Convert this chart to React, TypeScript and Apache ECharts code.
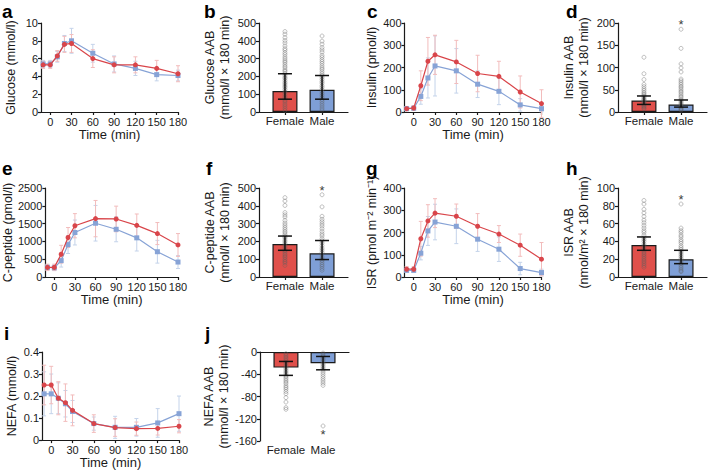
import React, { useEffect, useRef } from "react";
import * as echarts from "echarts";

const TIME = [-10, 0, 10, 20, 30, 60, 90, 120, 150, 180];
const TIME_TICKS = [0, 30, 60, 90, 120, 150, 180];
const SEX = ["Female", "Male"];

// a: glucose
const glucoseF = [5.3, 5.3, 6.3, 7.6, 7.7, 6.0, 5.3, 5.3, 4.9, 4.3];
const glucoseFsd = [0.4, 0.4, 0.6, 0.9, 1.0, 1.0, 0.9, 0.9, 0.9, 0.9];
const glucoseM = [5.4, 5.4, 6.2, 7.7, 8.0, 6.6, 5.4, 4.9, 4.2, 4.1];
const glucoseMsd = [0.4, 0.4, 0.6, 0.9, 1.4, 1.0, 0.9, 0.8, 0.7, 0.6];
// c: insulin
const insulinF = [15, 18, 118, 228, 257, 225, 173, 160, 90, 38];
const insulinFsd = [10, 10, 67, 107, 88, 97, 82, 68, 72, 62];
const insulinM = [15, 17, 70, 153, 207, 185, 125, 93, 32, 15];
const insulinMsd = [8, 8, 35, 90, 135, 100, 60, 60, 28, 14];
// e: C-peptide
const cpepF = [270, 270, 640, 1110, 1440, 1640, 1630, 1450, 1220, 900];
const cpepFsd = [90, 90, 250, 280, 340, 510, 360, 320, 310, 320];
const cpepM = [270, 260, 460, 910, 1250, 1510, 1340, 1100, 710, 420];
const cpepMsd = [80, 80, 180, 250, 350, 500, 350, 370, 320, 180];
// g: ISR
const isrF = [35, 35, 172, 252, 287, 273, 228, 193, 143, 80];
const isrFsd = [12, 12, 78, 73, 65, 55, 57, 38, 50, 75];
const isrM = [30, 30, 107, 207, 247, 228, 170, 125, 38, 20];
const isrMsd = [10, 10, 30, 65, 80, 78, 55, 55, 28, 15];
// i: NEFA
const nefaF = [0.25, 0.25, 0.19, 0.17, 0.135, 0.075, 0.057, 0.052, 0.053, 0.063];
const nefaFsd = [0.09, 0.085, 0.075, 0.085, 0.07, 0.04, 0.04, 0.03, 0.03, 0.03];
const nefaM = [0.21, 0.21, 0.19, 0.165, 0.13, 0.075, 0.058, 0.058, 0.078, 0.12];
const nefaMsd = [0.1, 0.09, 0.07, 0.06, 0.05, 0.03, 0.05, 0.04, 0.065, 0.08];

// b: glucose AAB
const glucAabMean = [118, 125];
const glucAabLo = [72, 72];
const glucAabHi = [215, 205];
const glucAabDotsF = [452, 437, 418, 402, 388, 371, 356, 347, 333, 322, 309, 298, 287, 279, 268, 257, 248, 236, 229, 218, 207, 196, 188, 177, 166, 157, 146, 138, 127, 116, 108, 97, 86, 78, 66, 57, 44, 33, 21, 9];
const glucAabDotsM = [427, 398, 381, 362, 349, 336, 318, 307, 294, 283, 272, 259, 247, 238, 226, 214, 203, 194, 183, 171, 162, 148, 139, 126, 114, 103, 92, 81, 69, 58, 46, 34, 22, 11];
// d: insulin AAB
const insAabMean = [26, 17];
const insAabLo = [17, 11];
const insAabHi = [36, 27];
const insAabDotsF = [123, 86, 73, 62, 57, 52, 48, 44, 41, 38, 35, 32, 29, 27, 24, 22, 19, 17, 14, 12, 9, 7];
const insAabDotsM = [186, 143, 108, 99, 90, 74, 70, 66, 62, 58, 55, 51, 47, 44, 40, 36, 33, 29, 26, 23, 20, 17, 14, 11, 8, 6, 4];
// f: C-peptide AAB
const cpepAabMean = [185, 133];
const cpepAabLo = [150, 98];
const cpepAabHi = [230, 205];
const cpepAabDotsF = [446, 427, 402, 362, 349, 337, 318, 303, 291, 279, 268, 257, 248, 237, 226, 219, 207, 198, 188, 179, 168, 157, 148, 139, 128, 118, 109, 98, 88, 79, 65];
const cpepAabDotsM = [462, 394, 341, 324, 311, 298, 286, 271, 256, 242, 231, 216, 203, 191, 176, 162, 151, 139, 126, 112, 101, 92, 81, 70, 61, 49, 38];
// h: ISR AAB
const isrAabMean = [36, 20];
const isrAabLo = [30, 15];
const isrAabHi = [45, 30];
const isrAabDotsF = [86, 82, 76, 72, 68, 64, 61, 58, 55, 52, 50, 47, 44, 42, 40, 37, 35, 33, 31, 29, 27, 25, 23, 21, 19, 17, 15, 13, 11];
const isrAabDotsM = [82, 55, 52, 50, 47, 45, 42, 40, 38, 35, 33, 31, 29, 27, 25, 23, 21, 19, 17, 15, 13, 11, 9, 7, 6];
// j: NEFA AAB
const nefaAabMean = [-28, -20];
const nefaAabLo = [-42, -32];
const nefaAabHi = [-17, -8];
const nefaAabDotsF = [-3, -6, -9, -12, -15, -18, -21, -24, -27, -30, -33, -36, -39, -42, -45, -48, -51, -54, -57, -61, -64, -67, -71, -75, -82, -90, -100, -103];
const nefaAabDotsM = [-2, -5, -8, -11, -14, -17, -20, -23, -26, -29, -32, -36, -40, -44, -48, -52, -56, -60, -133];

const FONT = "Liberation Sans, Arial, sans-serif";
const RED = "#d9454a";
const BLUE = "#87a3d6";
const RED_ERR = "#f2bcbc";
const BLUE_ERR = "#c4d3ea";
const RED_BAR = "#e0504b";
const BLUE_BAR = "#7f9fd6";
const INK = "#1a1a1a";

const axisLine = { show: true, onZero: false, lineStyle: { color: INK, width: 1.2 } };
const axisTick = { show: true, length: 3, lineStyle: { color: INK, width: 1.2 } };
const numFmt = (v: number) => String(+Number(v).toFixed(3));

function errRender(color: string, capW: number, width: number) {
  return (params: any, api: any) => {
    const x = api.value(0);
    const lo = api.value(2);
    const hi = api.value(3);
    const pLo = api.coord([x, lo]);
    const pHi = api.coord([x, hi]);
    const style = { stroke: color, lineWidth: width };
    return {
      type: "group",
      children: [
        { type: "line", shape: { x1: pLo[0], y1: pLo[1], x2: pHi[0], y2: pHi[1] }, style },
        { type: "line", shape: { x1: pHi[0] - capW / 2, y1: pHi[1], x2: pHi[0] + capW / 2, y2: pHi[1] }, style },
        { type: "line", shape: { x1: pLo[0] - capW / 2, y1: pLo[1], x2: pLo[0] + capW / 2, y2: pLo[1] }, style },
      ],
    };
  };
}

const grids: any[] = [];
const xAxes: any[] = [];
const yAxes: any[] = [];
const series: any[] = [];

function linePanel(rect: number[], yMax: number, yInt: number, yName: string, f: number[], fsd: number[], m: number[], msd: number[], nameGap: number) {
  const gi = grids.length;
  grids.push({ left: rect[0], top: rect[1], width: rect[2], height: rect[3] });
  const xi = xAxes.length;
  xAxes.push({
    gridIndex: gi, type: "value", min: -13, max: 180,
    axisLine, axisTick: { ...axisTick, customValues: TIME_TICKS },
    axisLabel: { customValues: TIME_TICKS, fontSize: 11, color: INK, fontFamily: FONT, margin: 4 },
    splitLine: { show: false },
    name: "Time (min)", nameLocation: "middle", nameGap: 15,
    nameTextStyle: { fontSize: 13, color: INK, fontFamily: FONT },
  });
  const yi = yAxes.length;
  yAxes.push({
    gridIndex: gi, type: "value", min: 0, max: yMax, interval: yInt,
    axisLine, axisTick,
    axisLabel: { fontSize: 11, color: INK, fontFamily: FONT, margin: 3, formatter: numFmt },
    splitLine: { show: false },
    name: yName, nameLocation: "middle", nameGap,
    nameTextStyle: { fontSize: 12.5, color: INK, fontFamily: FONT },
  });
  const errData = (mean: number[], sd: number[]) => TIME.map((t, i) => [t, mean[i], mean[i] - sd[i], mean[i] + sd[i]]);
  series.push({ type: "custom", xAxisIndex: xi, yAxisIndex: yi, renderItem: errRender(BLUE_ERR, 4, 1), data: errData(m, msd), encode: { x: 0, y: 1 }, z: 1 });
  series.push({ type: "custom", xAxisIndex: xi, yAxisIndex: yi, renderItem: errRender(RED_ERR, 4, 1), data: errData(f, fsd), encode: { x: 0, y: 1 }, z: 1 });
  series.push({ type: "line", xAxisIndex: xi, yAxisIndex: yi, data: TIME.map((t, i) => [t, m[i]]), symbol: "rect", symbolSize: 5, showSymbol: true, color: BLUE, lineStyle: { width: 1.2, color: BLUE }, itemStyle: { color: BLUE }, z: 3 });
  series.push({ type: "line", xAxisIndex: xi, yAxisIndex: yi, data: TIME.map((t, i) => [t, f[i]]), symbol: "circle", symbolSize: 5, showSymbol: true, color: RED, lineStyle: { width: 1.2, color: RED }, itemStyle: { color: RED }, z: 4 });
}

function barPanel(rect: number[], yMin: number, yMax: number, yInt: number, yName: string, mean: number[], lo: number[], hi: number[], dotsF: number[], dotsM: number[], star: number | null, negative: boolean) {
  const gi = grids.length;
  grids.push({ left: rect[0], top: rect[1], width: rect[2], height: rect[3] });
  const xi = xAxes.length;
  xAxes.push({
    gridIndex: gi, type: "value", min: -0.7, max: 1.7, position: "bottom",
    axisLine: negative ? { show: false, onZero: false } : axisLine,
    axisTick: negative ? { show: false } : { ...axisTick, customValues: [0, 1] },
    axisLabel: { customValues: [0, 1], formatter: (v: number) => SEX[Math.round(v)], fontSize: 11.5, color: INK, fontFamily: FONT, margin: 3 },
    splitLine: { show: false },
  });
  if (negative) {
    xAxes.push({
      gridIndex: gi, type: "value", min: -0.7, max: 1.7, position: "top",
      axisLine, axisTick: { show: false }, axisLabel: { show: false }, splitLine: { show: false },
    });
  }
  const yi = yAxes.length;
  yAxes.push({
    gridIndex: gi, type: "value", min: yMin, max: yMax, interval: yInt,
    axisLine, axisTick,
    axisLabel: { fontSize: 11, color: INK, fontFamily: FONT, margin: 3, formatter: numFmt },
    splitLine: { show: false },
    name: yName, nameLocation: "middle", nameGap: 27,
    nameTextStyle: { fontSize: 12.5, color: INK, fontFamily: FONT, lineHeight: 15 },
  });
  series.push({
    type: "bar", xAxisIndex: xi, yAxisIndex: yi, barWidth: 25, z: 2,
    itemStyle: { borderColor: INK, borderWidth: 1.2 },
    data: [
      { value: [0, mean[0]], itemStyle: { color: RED_BAR, borderColor: INK, borderWidth: 1.2 } },
      { value: [1, mean[1]], itemStyle: { color: BLUE_BAR, borderColor: INK, borderWidth: 1.2 } },
    ],
  });
  series.push({
    type: "scatter", xAxisIndex: xi, yAxisIndex: yi, symbol: "circle", symbolSize: 4, z: 3,
    itemStyle: { color: "rgba(255,255,255,0)", borderColor: "rgba(95,95,95,0.6)", borderWidth: 0.8 },
    data: dotsF.map((v) => [0, v]).concat(dotsM.map((v) => [1, v])),
  });
  series.push({
    type: "custom", xAxisIndex: xi, yAxisIndex: yi, renderItem: errRender("#111", 14, 1.5), z: 4,
    data: [[0, mean[0], lo[0], hi[0]], [1, mean[1], lo[1], hi[1]]], encode: { x: 0, y: 1 },
  });
  if (star !== null) {
    series.push({
      type: "scatter", xAxisIndex: xi, yAxisIndex: yi, symbol: "circle", symbolSize: 1, z: 5,
      itemStyle: { color: "transparent" },
      label: { show: true, formatter: "*", position: "inside", fontSize: 13, color: "#000", fontFamily: FONT, offset: [0, 1] },
      data: [[1, star]],
    });
  }
}

linePanel([41, 23, 137, 89], 10, 2, "Glucose (mmol/l)", glucoseF, glucoseFsd, glucoseM, glucoseMsd, 24);
barPanel([259, 23, 89, 89], 0, 500, 100, "Glucose AAB\n(mmol/l × 180 min)", glucAabMean, glucAabLo, glucAabHi, glucAabDotsF, glucAabDotsM, null, false);
linePanel([404.5, 23, 137, 89], 400, 100, "Insulin (pmol/l)", insulinF, insulinFsd, insulinM, insulinMsd, 26);
barPanel([618, 23, 89, 89], 0, 200, 50, "Insulin AAB\n(nmol/l × 180 min)", insAabMean, insAabLo, insAabHi, insAabDotsF, insAabDotsM, 200, false);
linePanel([41, 188, 137, 89], 2500, 500, "C-peptide (pmol/l)", cpepF, cpepFsd, cpepM, cpepMsd, 27);
barPanel([259, 188, 89, 89], 0, 500, 100, "C-peptide AAB\n(nmol/l × 180 min)", cpepAabMean, cpepAabLo, cpepAabHi, cpepAabDotsF, cpepAabDotsM, 490, false);
linePanel([404.5, 188, 137, 89], 400, 100, "ISR (pmol m⁻² min⁻¹)", isrF, isrFsd, isrM, isrMsd, 26);
barPanel([618, 188, 89, 89], 0, 100, 20, "ISR AAB\n(nmol/m² × 180 min)", isrAabMean, isrAabLo, isrAabHi, isrAabDotsF, isrAabDotsM, 88, false);
linePanel([42, 352, 137, 89], 0.4, 0.1, "NEFA (mmol/l)", nefaF, nefaFsd, nefaM, nefaMsd, 24);
barPanel([260, 352, 89, 89], -160, 0, 40, "NEFA AAB\n(mmol/l × 180 min)", nefaAabMean, nefaAabLo, nefaAabHi, nefaAabDotsF, nefaAabDotsM, -147, true);

const LETTERS: [string, number, number][] = [
  ["a", 2, 11], ["b", 204, 11], ["c", 367, 11], ["d", 566, 11],
  ["e", 2, 168], ["f", 206, 168], ["g", 366, 168], ["h", 566, 168],
  ["i", 4, 333], ["j", 205, 333],
];

export default function App() {
  const ref = useRef<HTMLDivElement>(null);
  useEffect(() => {
    if (!ref.current) return;
    const chart = echarts.init(ref.current, null, { renderer: "svg" });
    chart.setOption({
      animation: false,
      backgroundColor: "#fff",
      textStyle: { fontFamily: FONT },
      grid: grids,
      xAxis: xAxes,
      yAxis: yAxes,
      series,
      graphic: LETTERS.map(([t, x, y]) => ({
        type: "text", x, y,
        style: { text: t, font: `bold 19px ${FONT}`, fill: "#000", verticalAlign: "middle", align: "left" },
      })),
    });
    return () => chart.dispose();
  }, []);
  return <div ref={ref} style={{ position: "fixed", left: 0, top: 0, width: 708, height: 470 }} />;
}
